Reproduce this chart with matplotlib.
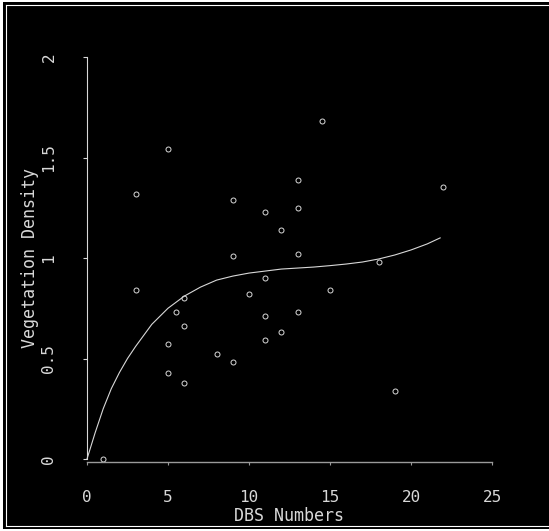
import matplotlib
matplotlib.use("Agg")
import matplotlib.pyplot as plt
from matplotlib.patches import Rectangle
from matplotlib.lines import Line2D

# DBS numbers vs vegetation density
dbs = [1, 3, 3, 5, 5, 5, 5.5, 6, 6, 6, 8, 9, 9, 9, 10,
       11, 11, 11, 11, 12, 12, 13, 13, 13, 13, 14.5, 15, 18, 19, 22]
density = [0.0, 1.32, 0.84, 1.54, 0.57, 0.43, 0.73, 0.80, 0.66, 0.38, 0.52, 1.29, 1.01, 0.485, 0.82,
           1.23, 0.90, 0.71, 0.59, 1.14, 0.63, 1.39, 1.25, 1.02, 0.73, 1.68, 0.84, 0.98, 0.34, 1.355]

# fitted trend curve
fit_x = [0, 0.5, 1, 1.5, 2, 2.5, 3, 4, 5, 6, 7, 8, 9, 10, 11, 12, 13,
         14, 15, 16, 17, 18, 19, 20, 21, 21.8]
fit_y = [0.0, 0.13, 0.25, 0.35, 0.43, 0.50, 0.56, 0.67, 0.75, 0.81, 0.855, 0.89, 0.91, 0.925, 0.935, 0.945, 0.95,
         0.955, 0.962, 0.97, 0.98, 0.995, 1.015, 1.04, 1.07, 1.10]

x_ticks = [0, 5, 10, 15, 20, 25]
y_ticks = [0, 0.5, 1, 1.5, 2]
y_tick_labels = ["0", "0.5", "1", "1.5", "2"]

FG = "#d8d8d8"
W, H = 549, 531


def main():
    fig = plt.figure(figsize=(W / 100, H / 100), dpi=100, facecolor="white")

    # black scanned panel with thin white inner border
    fig.patches.append(Rectangle((3 / W, 1 - 529 / H), 546 / W, 527 / H,
                                 transform=fig.transFigure, facecolor="black",
                                 edgecolor="none", zorder=-10))
    lw = 0.8
    fig.lines.append(Line2D([6 / W, 6 / W], [1 - 5 / H, 1 - 526 / H], transform=fig.transFigure,
                            color="white", lw=lw, zorder=-5))
    fig.lines.append(Line2D([6 / W, 1], [1 - 5 / H, 1 - 5 / H], transform=fig.transFigure,
                            color="white", lw=lw, zorder=-5))
    fig.lines.append(Line2D([6 / W, 1], [1 - 526 / H, 1 - 526 / H], transform=fig.transFigure,
                            color="white", lw=lw, zorder=-5))

    ax = fig.add_axes([87 / W, 1 - 459 / H, (492 - 87) / W, (459 - 57) / H])
    ax.set_zorder(5)
    ax.set_facecolor("none")

    ax.plot(fit_x, fit_y, color=FG, lw=0.8, clip_on=False)
    ax.plot(dbs, density, linestyle="none", marker="o", markersize=3.6,
            markerfacecolor="none", markeredgecolor=FG, markeredgewidth=0.7, clip_on=False)

    ax.set_xlim(0, 25)
    ax.set_ylim(0, 2)

    for s in ["top", "right"]:
        ax.spines[s].set_visible(False)
    ax.spines["left"].set_color(FG)
    ax.spines["left"].set_linewidth(0.8)
    ax.spines["bottom"].set_color("#9a9a9a")
    ax.spines["bottom"].set_linewidth(1.0)
    ax.spines["bottom"].set_position(("outward", 2))

    mono = "DejaVu Sans Mono"
    ax.set_xticks(x_ticks)
    ax.set_xticklabels([str(t) for t in x_ticks], family=mono, fontsize=11.5, color=FG)
    ax.set_yticks(y_ticks)
    ax.set_yticklabels(y_tick_labels, family=mono, fontsize=11.5, color=FG,
                       rotation=90, va="center")
    ax.tick_params(axis="x", length=2, width=0.8, color="#9a9a9a", pad=18)
    ax.tick_params(axis="y", length=3, width=0.8, color=FG, pad=19)

    ax.set_xlabel("DBS Numbers", family=mono, fontsize=12, color=FG, labelpad=2)
    ax.set_ylabel("Vegetation Density", family=mono, fontsize=12, color=FG, labelpad=2)

    fig.savefig("out.png", dpi=100, facecolor="white")
    plt.close(fig)


if __name__ == "__main__":
    main()
